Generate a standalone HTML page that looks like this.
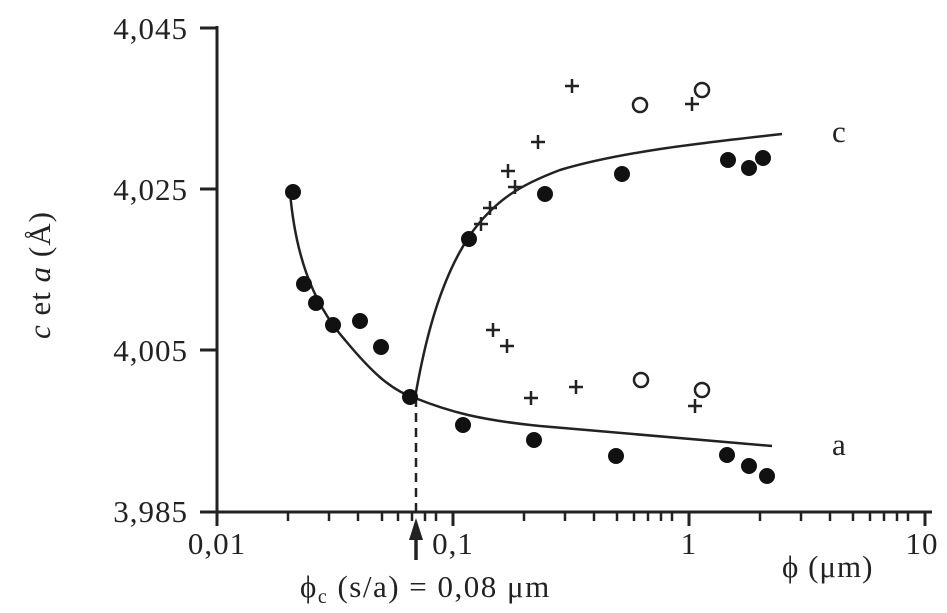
<!DOCTYPE html><html><head><style>body{margin:0;background:#fff}svg{display:block}text{font-family:"Liberation Serif",serif;fill:#222}</style></head><body>
<svg width="947" height="613" viewBox="0 0 947 613">
<g stroke="#222" stroke-width="3" fill="none">
<line x1="217" y1="26" x2="217" y2="513"/>
<line x1="200" y1="512" x2="932" y2="512"/>
<line x1="200" y1="28" x2="217" y2="28"/><line x1="200" y1="189" x2="217" y2="189"/><line x1="200" y1="350" x2="217" y2="350"/>
<line x1="217" y1="512" x2="217" y2="526"/><line x1="453" y1="512" x2="453" y2="526"/><line x1="689" y1="512" x2="689" y2="526"/><line x1="925" y1="512" x2="925" y2="526"/>
</g>
<g stroke="#222" stroke-width="2.5">
<path d="M288 512v9M329 512v9M358 512v9M382 512v9M398 512v9M412 512v9M425 512v9M436 512v9M524 512v9M565 512v9M594 512v9M617 512v9M634 512v9M648 512v9M661 512v9M672 512v9M760 512v9M801 512v9M830 512v9M853 512v9M870 512v9M884 512v9M897 512v9M908 512v9"/>
</g>
<line x1="416" y1="398" x2="416" y2="512" stroke="#222" stroke-width="2.5" stroke-dasharray="9,6"/>
<line x1="416" y1="560" x2="416" y2="535" stroke="#222" stroke-width="3.5"/>
<polygon points="416,518 409,540 423,540" fill="#222"/>
<g font-size="31" text-anchor="end" letter-spacing="1">
<text x="188" y="39">4,045</text><text x="188" y="200">4,025</text><text x="188" y="361">4,005</text><text x="188" y="522">3,985</text>
</g>
<g font-size="31" text-anchor="middle" letter-spacing="1">
<text x="217" y="554">0,01</text><text x="453" y="554">0,1</text><text x="689" y="554">1</text><text x="922" y="554">10</text>
</g>
<text x="782" y="577" font-size="31" letter-spacing="1">ϕ (μm)</text>
<text x="300" y="597" font-size="31" letter-spacing="1.5">ϕ<tspan font-size="20" dy="6">c</tspan><tspan dy="-6"> (s/a) = 0,08 μm</tspan></text>
<text x="832" y="142" font-size="31">c</text>
<text x="832" y="455" font-size="31">a</text>
<text transform="translate(50,275) rotate(-90)" font-size="31" text-anchor="middle" letter-spacing="1"><tspan font-style="italic">c</tspan> et <tspan font-style="italic">a</tspan> (Å)</text>
<g stroke="#222" stroke-width="2.5" fill="none">
<path d="M290 192 C295 250 310 300 345 340 C370 370 390 390 415 398 C450 412 480 420 540 426 C620 433 700 440 772 446"/>
<path d="M415 398 C425 340 440 280 470 235 C495 200 520 185 560 170 C620 152 700 143 782 134"/>
</g>
<g fill="#111">
<circle cx="293" cy="192" r="8"/><circle cx="304" cy="284" r="8"/><circle cx="316" cy="303" r="8"/><circle cx="333" cy="325" r="8"/><circle cx="360" cy="321" r="8"/><circle cx="381" cy="347" r="8"/><circle cx="410" cy="397" r="8"/><circle cx="463" cy="425" r="8"/><circle cx="534" cy="440" r="8"/><circle cx="616" cy="456" r="8"/><circle cx="727" cy="455" r="8"/><circle cx="749" cy="466" r="8"/><circle cx="767" cy="476" r="8"/>
<circle cx="469" cy="239" r="8"/><circle cx="545" cy="194" r="8"/><circle cx="622" cy="174" r="8"/><circle cx="728" cy="160" r="8"/><circle cx="749" cy="168" r="8"/><circle cx="763" cy="158" r="8"/>
</g>
<g stroke="#222" stroke-width="2.5" fill="none">
<circle cx="640" cy="105" r="7"/><circle cx="702" cy="90" r="7"/><circle cx="641" cy="380" r="7"/><circle cx="702" cy="390" r="7"/>
</g>
<g stroke="#222" stroke-width="2.5">
<path d="M565 86h14M572 79v14 M685 104h14M692 97v14 M531 142h14M538 135v14 M501 171h14M508 164v14 M508 187h14M515 180v14 M483 208h14M490 201v14 M474 224h14M481 217v14 M486 330h14M493 323v14 M500 346h14M507 339v14 M524 398h14M531 391v14 M569 387h14M576 380v14 M688 406h14M695 399v14"/>
</g>
</svg></body></html>
